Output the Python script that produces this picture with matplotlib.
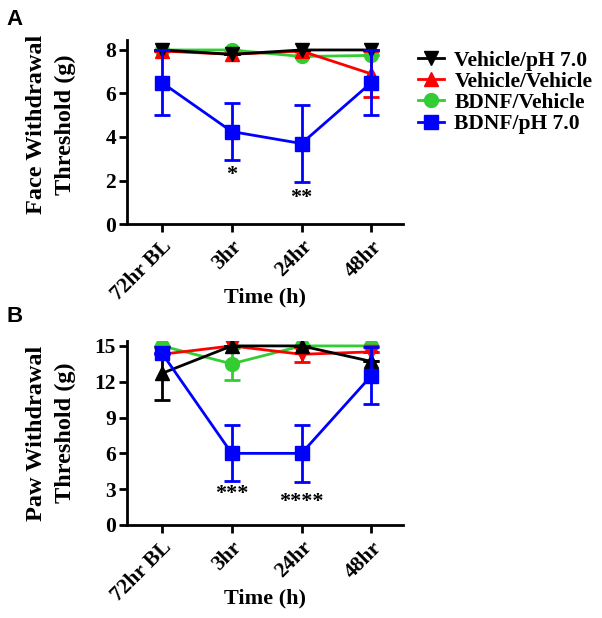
import numpy as np
import matplotlib.pyplot as plt
from matplotlib.lines import Line2D

plt.rcParams['font.family'] = 'Liberation Serif'
plt.rcParams['font.weight'] = 'bold'

times = ['72hr BL', '3hr', '24hr', '48hr']
groups = ['Vehicle/pH 7.0', 'Vehicle/Vehicle', 'BDNF/Vehicle', 'BDNF/pH 7.0']
colors = ['black', '#ff0000', '#33cc33', '#0000ff']

# face withdrawal threshold (g), panel A
face_mean = [
    [8.0, 7.8, 8.0, 8.0],
    [7.95, 7.8, 7.95, 6.9],
    [8.0, 8.0, 7.7, 7.75],
    [6.5, 4.25, 3.7, 6.5],
]
face_err = [
    [0, 0, 0, 0],
    [0, 0, 0, 1.05],
    [0, 0, 0, 0],
    [1.5, 1.3, 1.75, 1.5],
]
face_stars = ['', '*', '**', '']
face_star_y = [0, 2.25, 1.2, 0]

# paw withdrawal threshold (g), panel B
paw_mean = [
    [12.7, 15.0, 15.0, 13.7],
    [14.3, 15.0, 14.3, 14.5],
    [15.0, 13.5, 15.0, 15.0],
    [14.4, 6.0, 6.0, 12.5],
]
paw_err = [
    [2.2, 0, 0, 0],
    [0, 0, 0.65, 0],
    [0, 1.35, 0, 0],
    [0, 2.35, 2.4, 2.4],
]
paw_stars = ['', '***', '****', '']
paw_star_y = [0, 2.6, 1.9, 0]

x = np.arange(len(times))
fig = plt.figure(figsize=(6.02, 6.18), dpi=100)
axA = fig.add_axes([0.211, 0.6375, 0.458, 0.2975])
axB = fig.add_axes([0.211, 0.1505, 0.458, 0.2975])


def draw(ax, means, errs, markers, stars, star_y, ymax, yticks, ylabel, ly):
    order = [2, 1, 0, 3]
    for k, i in enumerate(order):
        ax.errorbar(x, means[i], yerr=errs[i], color=colors[i], marker=markers[i],
                    markersize=10, lw=2, elinewidth=2, capsize=6, capthick=2,
                    zorder=3 + k)
    for xi, s, sy in zip(x, stars, star_y):
        if s:
            ax.text(xi, sy, s, ha='center', va='center', fontsize=16, fontweight='bold')
    ax.set_xlim(-0.5, 3.45)
    ax.set_ylim(0, ymax)
    ax.set_yticks(yticks)
    ax.set_xticks(x)
    ax.set_xticklabels(times, rotation=45, ha='right', rotation_mode='anchor')
    ax.tick_params(labelsize=15.5, width=2, length=6)
    ax.tick_params(axis='x', pad=3)
    ax.tick_params(axis='y', pad=2)
    for lab in ax.get_xticklabels() + ax.get_yticklabels():
        lab.set_fontweight('bold')
    for s in ['top', 'right']:
        ax.spines[s].set_visible(False)
    for s in ['left', 'bottom']:
        ax.spines[s].set_linewidth(2)
    ax.set_xlabel('Time (h)', fontsize=16, fontweight='bold')
    ax.xaxis.set_label_coords(0.5, -0.345)
    ax.set_ylabel(ylabel, fontsize=17.5, fontweight='bold', linespacing=1.5)
    ax.yaxis.set_label_coords(-0.185, ly)


draw(axA, face_mean, face_err, ['v', '^', 'o', 's'], face_stars, face_star_y,
     8.45, [0, 2, 4, 6, 8], 'Face Withdrawal\nThreshold (g)', 0.54)
draw(axB, paw_mean, paw_err, ['^', 'v', 'o', 's'], paw_stars, paw_star_y,
     15.4, [0, 3, 6, 9, 12, 15], 'Paw Withdrawal\nThreshold (g)', 0.5)

leg_markers = ['v', '^', 'o', 's']
handles = [Line2D([], [], color=c, marker=m, markersize=10, lw=2)
           for c, m in zip(colors, leg_markers)]
axA.legend(handles, groups, loc='upper left', bbox_to_anchor=(1.0, 1.025),
           frameon=False, fontsize=15.5, handlelength=1.2, handletextpad=0.5,
           labelspacing=0.05, borderaxespad=0.3)

fig.text(0.01, 0.985, 'A', fontsize=16, fontweight='bold', family='Liberation Sans', va='top')
fig.text(0.01, 0.505, 'B', fontsize=16, fontweight='bold', family='Liberation Sans', va='top')

plt.savefig('out.png', dpi=100)
